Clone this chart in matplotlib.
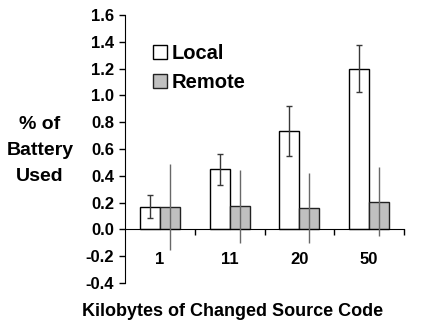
import numpy as np
import matplotlib
matplotlib.use('Agg')
import matplotlib.pyplot as plt

plt.rcParams['font.family'] = ['Liberation Sans', 'DejaVu Sans']
plt.rcParams['font.weight'] = 'bold'

# values
sizes = ['1', '11', '20', '50']
local = [0.17, 0.45, 0.735, 1.20]
local_err = [0.088, 0.115, 0.186, 0.173]
remote = [0.165, 0.172, 0.162, 0.207]
remote_err = [0.32, 0.27, 0.26, 0.257]

x = np.arange(len(sizes))
w = 0.287

fig = plt.figure(figsize=(4.38, 3.22), dpi=100)
ax = fig.add_axes([0.2854, 0.1211, 0.637, 0.8323])

ax.bar(x - w/2, local, w, color='white', edgecolor='black', linewidth=1.0,
       label='Local', zorder=2)
ax.bar(x + w/2, remote, w, color='#c0c0c0', edgecolor='#222222', linewidth=1.0,
       label='Remote', zorder=2)
ax.errorbar(x - w/2, local, yerr=local_err, fmt='none', ecolor='#383838',
            elinewidth=1.0, capsize=2.5, capthick=1.0, zorder=3)
ax.errorbar(x + w/2, remote, yerr=remote_err, fmt='none', ecolor='#686868',
            elinewidth=1.0, capsize=0, zorder=3)

ax.set_xlim(-0.5, 3.5)
ax.set_ylim(-0.4, 1.6)
ax.spines['top'].set_visible(False)
ax.spines['right'].set_visible(False)
ax.spines['bottom'].set_position(('data', 0))

ax.set_yticks(np.arange(-0.4, 1.61, 0.2))
ax.set_yticklabels(['%.1f' % v for v in np.arange(-0.4, 1.61, 0.2)])
ax.tick_params(axis='y', direction='out', length=4, width=1, pad=4, labelsize=12)

# category boundaries get the tick marks, labels sit at the centers
ax.set_xticks([0.5, 1.5, 2.5, 3.5])
ax.set_xticklabels([])
ax.tick_params(axis='x', which='major', direction='out', length=4, width=1)
ax.set_xticks(x, minor=True)
ax.set_xticklabels(sizes, minor=True)
ax.tick_params(axis='x', which='minor', length=0, pad=16, labelsize=12)

ax.set_ylabel('% of\nBattery\nUsed', rotation=0, fontsize=14, fontweight='bold',
              ha='center', va='center', linespacing=1.68)
ax.yaxis.set_label_coords(-0.305, 0.494)

fig.text(0.532, 0.034, 'Kilobytes of Changed Source Code', ha='center',
         va='center', fontsize=13, fontweight='bold')

ax.legend(loc='upper left', bbox_to_anchor=(0.099, 0.893), frameon=False,
          prop={'size': 14.5, 'weight': 'bold'}, handlelength=0.7,
          handleheight=0.7, handletextpad=0.25, labelspacing=0.5,
          borderpad=0, borderaxespad=0)

fig.savefig('out.png', dpi=100)
